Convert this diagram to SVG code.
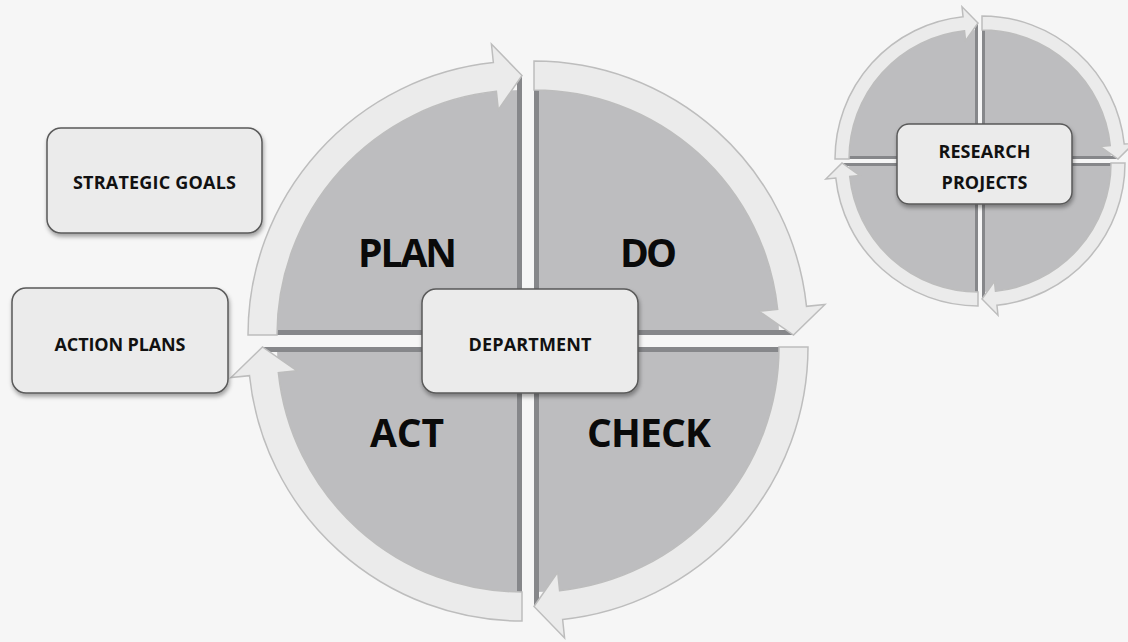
<svg xmlns="http://www.w3.org/2000/svg" width="1128" height="642" viewBox="0 0 1128 642">
  <defs>
    <filter id="shadow" x="-10%" y="-10%" width="125%" height="135%">
      <feDropShadow dx="1" dy="3" stdDeviation="2" flood-color="#000" flood-opacity="0.35"/>
    </filter>
  </defs>
  <style>
    .bg { fill: #f6f6f6; }
    .quad { fill: #bdbdbf; }
    .strip { fill: #86878a; }
    .band { fill: #ebebeb; stroke: #bdbdbd; stroke-width: 1.5; stroke-linejoin: miter; }
    .box { fill: #ebebeb; stroke: #5a5a5a; stroke-width: 1.5; filter: url(#shadow); }
    .lbl { font-family: "Open Sans", "Liberation Sans", sans-serif; font-weight: 700; font-size: 18px; fill: #111; text-anchor: middle; }
    .big { font-family: "Open Sans", "Liberation Sans", sans-serif; font-weight: 700; font-size: 39px; fill: #0a0a0a; text-anchor: middle; }
  </style>
  <rect class="bg" x="0" y="0" width="1128" height="642"/>

  <!-- Big cycle quadrants -->
  <g id="plan">
    <path class="quad" d="M522,335 L277,335 A245,245 0 0 1 522,90 Z"/>
    <rect class="strip" x="517" y="75" width="5" height="260"/>
    <rect class="strip" x="262" y="330" width="260" height="5"/>
    <text class="big" x="407.5" y="267" textLength="99">PLAN</text>
  </g>
  <g id="do">
    <path class="quad" d="M534,335 L534,90 A245,245 0 0 1 779,335 Z"/>
    <rect class="strip" x="534" y="75" width="5" height="260"/>
    <rect class="strip" x="534" y="330" width="260" height="5"/>
    <text class="big" x="648.5" y="267" textLength="57">DO</text>
  </g>
  <g id="check">
    <path class="quad" d="M534,347 L779,347 A245,245 0 0 1 534,592 Z"/>
    <rect class="strip" x="534" y="347" width="5" height="260"/>
    <rect class="strip" x="534" y="347" width="260" height="5"/>
    <text class="big" x="649" y="447" textLength="124">CHECK</text>
  </g>
  <g id="act">
    <path class="quad" d="M522,347 L522,592 A245,245 0 0 1 277,347 Z"/>
    <rect class="strip" x="517" y="347" width="5" height="260"/>
    <rect class="strip" x="262" y="347" width="260" height="5"/>
    <text class="big" x="407" y="447" textLength="74">ACT</text>
  </g>

  <!-- Small cycle quadrants -->
  <g id="research-cycle">
    <path class="quad" d="M978,159 L849,159 A129,129 0 0 1 978,30 Z"/>
    <path class="quad" d="M982,159 L982,30 A129,129 0 0 1 1111,159 Z"/>
    <path class="quad" d="M982,163 L1111,163 A129,129 0 0 1 982,292 Z"/>
    <path class="quad" d="M978,163 L978,292 A129,129 0 0 1 849,163 Z"/>
    <rect class="strip" x="975" y="23" width="3" height="136"/>
    <rect class="strip" x="842" y="156" width="136" height="3"/>
    <rect class="strip" x="982" y="23" width="3" height="136"/>
    <rect class="strip" x="982" y="156" width="136" height="3"/>
    <rect class="strip" x="975" y="163" width="3" height="136"/>
    <rect class="strip" x="842" y="163" width="136" height="3"/>
    <rect class="strip" x="982" y="163" width="3" height="136"/>
    <rect class="strip" x="982" y="163" width="136" height="3"/>
  </g>

  <!-- Circular arrows -->
  <g id="connectors">
    <path class="band" d="M248,335 A274,274 0 0 1 493.36,62.5 L491.43,44.1 L522,75.5 L498.32,109.74 L496.39,91.34 A245,245 0 0 0 277,335 Z"/>
    <path class="band" d="M534,61 A274,274 0 0 1 806.5,306.36 L824.9,304.43 L793.5,335 L759.26,311.32 L777.66,309.39 A245,245 0 0 0 534,90 Z"/>
    <path class="band" d="M808,347 A274,274 0 0 1 562.64,619.5 L564.57,637.9 L534,606.5 L557.68,572.26 L559.61,590.66 A245,245 0 0 0 779,347 Z"/>
    <path class="band" d="M522,621 A274,274 0 0 1 249.5,375.64 L231.1,377.57 L262.5,347 L296.74,370.68 L278.34,372.61 A245,245 0 0 0 522,592 Z"/>

    <path class="band" d="M835,159 A143,143 0 0 1 963.05,16.78 L962.01,6.84 L978,23 L965.56,40.65 L964.52,30.71 A129,129 0 0 0 849,159 Z"/>
    <path class="band" d="M982,16 A143,143 0 0 1 1124.22,144.05 L1134.16,143.01 L1118,159 L1100.35,146.56 L1110.29,145.52 A129,129 0 0 0 982,30 Z"/>
    <path class="band" d="M1125,163 A143,143 0 0 1 996.95,305.22 L997.99,315.16 L982,299 L994.44,281.35 L995.48,291.29 A129,129 0 0 0 1111,163 Z"/>
    <path class="band" d="M978,306 A143,143 0 0 1 835.78,177.95 L825.84,178.99 L842,163 L859.65,175.44 L849.71,176.48 A129,129 0 0 0 978,292 Z"/>
  </g>

  <!-- Boxes -->
  <g id="strategic-goals">
    <rect class="box" x="47" y="128" width="215" height="105" rx="14"/>
    <text class="lbl" x="154.5" y="189" textLength="163">STRATEGIC GOALS</text>
  </g>
  <g id="action-plans">
    <rect class="box" x="12" y="288" width="216" height="105" rx="14"/>
    <text class="lbl" x="120" y="351" textLength="131">ACTION PLANS</text>
  </g>
  <g id="department">
    <rect class="box" x="422" y="289" width="216" height="104" rx="14"/>
    <text class="lbl" x="530" y="351" textLength="123">DEPARTMENT</text>
  </g>
  <g id="research-projects">
    <rect class="box" x="897" y="124" width="175" height="80" rx="12"/>
    <text class="lbl" x="984.5" y="158" textLength="92">RESEARCH</text>
    <text class="lbl" x="984.5" y="189" textLength="86">PROJECTS</text>
  </g>
</svg>
